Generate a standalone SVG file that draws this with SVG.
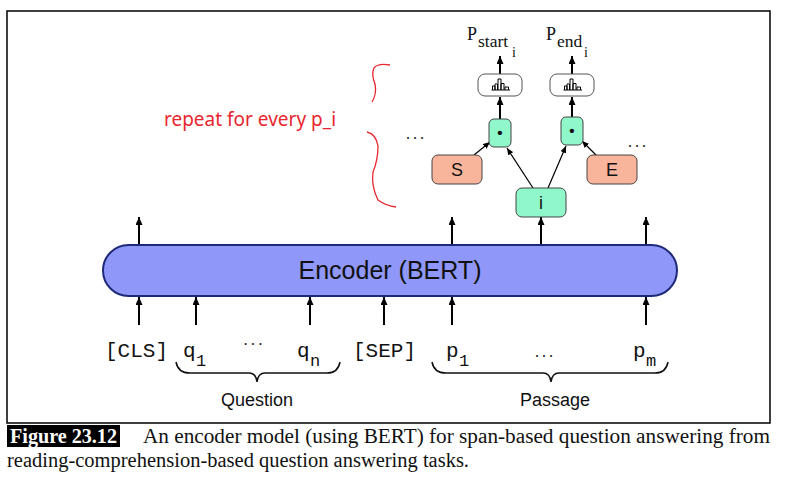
<svg xmlns="http://www.w3.org/2000/svg" width="789" height="483" viewBox="0 0 789 483">
<defs>
<marker id="ah" viewBox="0 0 8 7" markerWidth="8" markerHeight="7" refX="8" refY="3.5" orient="auto" markerUnits="userSpaceOnUse">
<path d="M0,0 L8,3.5 L0,7 z" fill="#000"/>
</marker>
<marker id="ahs" viewBox="0 0 8 7" markerWidth="7" markerHeight="6" refX="8" refY="3.5" orient="auto" markerUnits="userSpaceOnUse">
<path d="M0,0 L8,3.5 L0,7 z" fill="#000"/>
</marker>
</defs>
<style>
.thick{stroke:#000;stroke-width:2;fill:none;marker-end:url(#ah)}
.thin{stroke:#000;stroke-width:1.2;fill:none;marker-end:url(#ahs)}
.green{fill:#8ff7c9;stroke:#444;stroke-width:1}
.salmon{fill:#f9b59c;stroke:#444;stroke-width:1}
.hist{fill:#fff;stroke:#555;stroke-width:1}
.lbl{font-family:"Liberation Sans",Arial,sans-serif;font-size:18px;fill:#111;text-anchor:middle}
.tok{font-family:"Liberation Mono","Courier New",monospace;font-size:21px;fill:#111}
.sub{font-family:"Liberation Mono","Courier New",monospace;font-size:17px;fill:#111}
.ser{font-family:"Liberation Serif","Times New Roman",serif;fill:#111}
.brace{stroke:#111;stroke-width:1.5;fill:none}
.red{stroke:#e8262f;stroke-width:1.3;fill:none}
.icon{stroke:#000;stroke-width:1;fill:none}
</style>
<rect x="7" y="11" width="763" height="412" fill="#fff" stroke="#000" stroke-width="1.5"/>

<g id="connectors">
<line class="thick" x1="139" y1="245" x2="139" y2="217"/>
<line class="thick" x1="452" y1="245" x2="452" y2="217"/>
<line class="thick" x1="541" y1="245" x2="541" y2="217"/>
<line class="thick" x1="646" y1="245" x2="646" y2="217"/>
<line class="thick" x1="139" y1="325" x2="139" y2="297"/>
<line class="thick" x1="196" y1="325" x2="196" y2="297"/>
<line class="thick" x1="310" y1="325" x2="310" y2="297"/>
<line class="thick" x1="384" y1="325" x2="384" y2="297"/>
<line class="thick" x1="452" y1="325" x2="452" y2="297"/>
<line class="thick" x1="646" y1="325" x2="646" y2="297"/>
<line class="thick" x1="500" y1="119" x2="500" y2="97"/>
<line class="thick" x1="500" y1="74" x2="500" y2="56"/>
<line class="thick" x1="572" y1="117" x2="572" y2="97"/>
<line class="thick" x1="572" y1="74" x2="572" y2="56"/>
<line class="thin" x1="474" y1="155" x2="490" y2="142"/>
<line class="thin" x1="533" y1="188" x2="507" y2="148"/>
<line class="thin" x1="548" y1="188" x2="566" y2="146"/>
<line class="thin" x1="596" y1="155" x2="582" y2="141"/>
</g>

<g id="encoder">
<rect x="103" y="245" width="574" height="51" rx="25.5" fill="#8f97f8" stroke="#1e2a78" stroke-width="2"/>
<text x="390" y="279" class="lbl" style="font-size:25px">Encoder (BERT)</text>
</g>

<g id="node-i">
<rect class="green" x="516" y="188" width="50" height="29" rx="6"/>
<text x="541" y="209" class="lbl">i</text>
</g>
<g id="node-S">
<rect class="salmon" x="432" y="155" width="50" height="29" rx="6"/>
<text x="457" y="176" class="lbl">S</text>
</g>
<g id="node-E">
<rect class="salmon" x="587" y="155" width="50" height="29" rx="6"/>
<text x="612" y="176" class="lbl">E</text>
</g>
<g id="dot-start">
<rect class="green" x="489" y="119" width="22" height="28" rx="5"/>
<text x="500" y="138" class="lbl" style="font-size:15px;font-weight:bold">•</text>
</g>
<g id="dot-end">
<rect class="green" x="561" y="117" width="22" height="28" rx="5"/>
<text x="572" y="136" class="lbl" style="font-size:15px;font-weight:bold">•</text>
</g>
<g id="softmax-start">
<rect class="hist" x="478" y="74" width="44" height="22" rx="7"/>
<path class="icon" d="M491.5,90 H510 M492.5,90 V86 H495 V90 M495,90 V84 H497.5 V90 M498,90 V79 H501 V90 M501,90 V83.5 H504 V90 M505,90 V87 H508.5 V90"/>
</g>
<g id="softmax-end">
<rect class="hist" x="550" y="74" width="44" height="22" rx="7"/>
<path class="icon" d="M563.5,90 H582 M564.5,90 V86 H567 V90 M567,90 V84 H569.5 V90 M570,90 V79 H573 V90 M573,90 V83.5 H576 V90 M577,90 V87 H580.5 V90"/>
</g>

<g id="out-labels">
<text class="ser" x="467" y="40" style="font-size:18px">P</text>
<text class="ser" x="478" y="47" style="font-size:17.5px">start</text>
<text class="ser" x="512" y="57" style="font-size:14px">i</text>
<text class="ser" x="546" y="40" style="font-size:18px">P</text>
<text class="ser" x="557" y="47" style="font-size:17.5px">end</text>
<text class="ser" x="584" y="57" style="font-size:14px">i</text>
</g>

<g id="ellipses">
<text class="ser" x="406" y="139" style="font-size:16px;letter-spacing:3px">...</text>
<text class="ser" x="628" y="147" style="font-size:16px;letter-spacing:3px">...</text>
</g>

<g id="tokens">
<text class="tok" x="105" y="357">[CLS]</text>
<text class="tok" x="183" y="357">q</text><text class="sub" x="196" y="366">1</text>
<text class="ser" x="243" y="350" style="font-size:16px;letter-spacing:2px">···</text>
<text class="tok" x="297" y="357">q</text><text class="sub" x="310" y="366">n</text>
<text class="tok" x="353" y="357">[SEP]</text>
<text class="tok" x="446" y="357">p</text><text class="sub" x="459" y="366">1</text>
<text class="ser" x="535" y="357" style="font-size:16px;letter-spacing:3px">...</text>
<text class="tok" x="633" y="357">p</text><text class="sub" x="646" y="366">m</text>
</g>

<g id="question">
<path class="brace" d="M176,362 Q178,373 190,373 H249 Q256,373 257,382 Q258,373 265,373 H327 Q338,373 340,362"/>
<text x="257" y="406" class="lbl">Question</text>
</g>
<g id="passage">
<path class="brace" d="M432,362 Q434,373 446,373 H543 Q550,373 551,382 Q552,373 559,373 H655 Q666,373 668,362"/>
<text x="555" y="406" class="lbl">Passage</text>
</g>

<g id="repeat-note">
<text x="164" y="126" style="font-family:'Noto Sans','Liberation Sans',sans-serif;font-size:19px;fill:#e8262f">repeat for every p_i</text>
<path class="red" d="M390,65 Q378,63 374,68 Q371,74 375,84 Q377,94 372,102"/>
<path class="red" d="M367,132 Q376,134 378,146 Q378,160 373,172 Q371,186 378,200 Q386,206 396,207"/>
</g>

<g id="caption">
<rect x="7" y="425" width="113" height="22" fill="#000"/>
<text class="ser" x="10" y="443" style="font-size:20px;font-weight:bold;fill:#fff" textLength="107" lengthAdjust="spacingAndGlyphs">Figure 23.12</text>
<text class="ser" x="143" y="443" style="font-size:20.5px" textLength="627" lengthAdjust="spacingAndGlyphs">An encoder model (using BERT) for span-based question answering from</text>
<text class="ser" x="7" y="467" style="font-size:20.5px" textLength="462" lengthAdjust="spacingAndGlyphs">reading-comprehension-based question answering tasks.</text>
</g>
</svg>
